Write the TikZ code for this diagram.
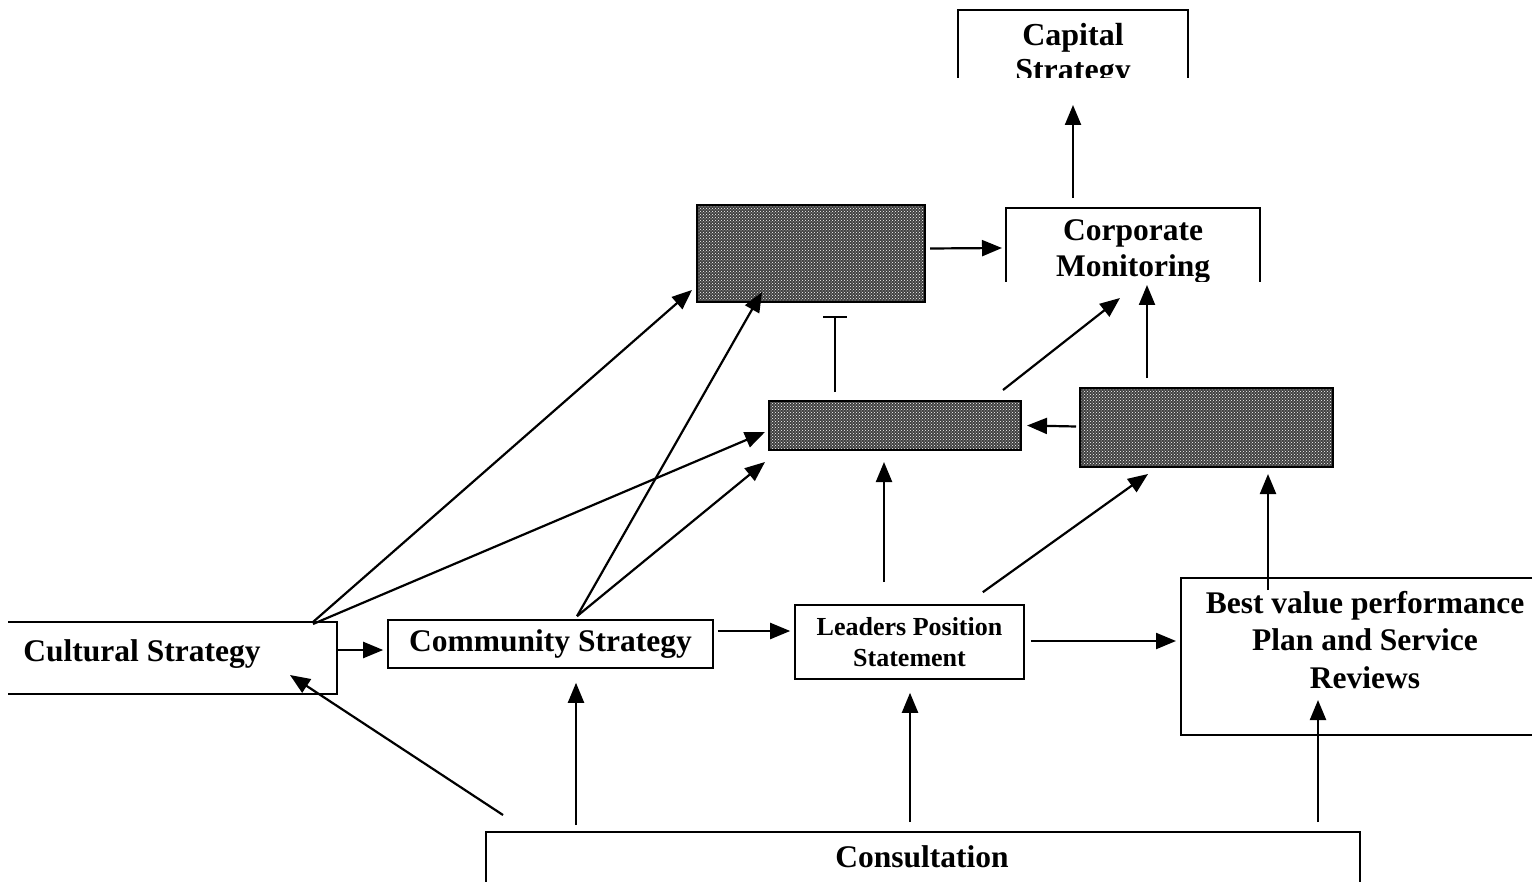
\documentclass[tikz,border=0pt]{standalone}
\usepackage{fontspec}
\setmainfont{Liberation Serif}
\usetikzlibrary{arrows.meta,calc,patterns}
\begin{document}
\begin{tikzpicture}[x=1pt,y=-1pt,
  boxline/.style={line width=1.6pt},
  txt/.style={font=\fontsize{31.5}{36}\selectfont\bfseries,align=center,inner sep=0pt},
  smalltxt/.style={font=\fontsize{26}{31}\selectfont\bfseries,align=center,inner sep=0pt},
  plain/.style={draw=none,inner sep=0pt,outer sep=0pt},
  darkbox/.style={draw=black,line width=1.6pt,fill=black!75,inner sep=0pt,outer sep=0pt},
  conn/.style={line width=2.2pt,-{Triangle[length=20pt,width=16pt]}},
  barconn/.style={line width=2.2pt,-{Bar[width=24pt,line width=2pt]}}
]
\useasboundingbox (0,0) rectangle (1538,882);
\fill[white] (0,0) rectangle (1538,882);

% Capital Strategy (open bottom)
\node[plain,minimum width=230pt,minimum height=68pt] (cap) at (1073,44) {};
\draw[boxline] (cap.south west) -- (cap.north west) -- (cap.north east) -- (cap.south east);
\begin{scope}
  \clip (cap.south west) rectangle (cap.north east);
  \node[txt,font=\fontsize{32}{35}\selectfont\bfseries] (captext) at (1073,55) {Capital\\Strategy};
\end{scope}

% dark boxes
\node[darkbox,minimum width=228pt,minimum height=97pt] (dk1) at (811,253.5) {};
\node[darkbox,minimum width=252pt,minimum height=49pt] (dk2) at (895,425.5) {};
\node[darkbox,minimum width=253pt,minimum height=79pt] (dk3) at (1206.5,427.5) {};
\foreach \b in {dk1,dk2,dk3}{
  \fill[pattern=crosshatch dots,pattern color=white] ([shift={(1.5pt,1.5pt)}]\b.south west) rectangle ([shift={(-1.5pt,-1.5pt)}]\b.north east);
}

% Corporate Monitoring (open bottom)
\node[plain,minimum width=254pt,minimum height=74pt] (corp) at (1133,245) {};
\draw[boxline] (corp.south west) -- (corp.north west) -- (corp.north east) -- (corp.south east);
\begin{scope}
  \clip (corp.south west) rectangle (corp.north east);
  \node[txt] (corptext) at (1133,252) {Corporate\\Monitoring};
\end{scope}

% Cultural Strategy (open left)
\node[plain,minimum width=329pt,minimum height=72pt] (cult) at (172.5,658) {};
\draw[boxline] (cult.north west) -- (cult.north east) -- (cult.south east) -- (cult.south west);
\node[txt] (culttext) at (142,654) {Cultural Strategy};

% Community Strategy
\node[draw,boxline,txt,minimum width=325pt,minimum height=48pt] (comm) at (550.5,644) {Community Strategy};

% Leaders Position Statement
\node[draw,boxline,smalltxt,minimum width=229pt,minimum height=74pt] (lead) at (909.5,642) {Leaders Position\\Statement};

% Best value (open right)
\node[plain,minimum width=351pt,minimum height=157pt] (best) at (1356.5,656.5) {};
\draw[boxline] (best.north east) -- (best.north west) -- (best.south west) -- (best.south east);
\node[txt,font=\fontsize{31.5}{37.5}\selectfont\bfseries] (besttext) at (1365,640) {Best value performance\\Plan and Service\\Reviews};

% Consultation (open bottom)
\node[plain,minimum width=874pt,minimum height=50pt] (cons) at (923,857) {};
\draw[boxline] (cons.south west) -- (cons.north west) -- (cons.north east) -- (cons.south east);
\node[txt] (constext) at (922,857) {Consultation};

% connectors
\draw[conn] ($(corp.north)+(-60,-10)$) -- ($(cap.south)+(0,27)$);
\draw[conn] ($(dk1.east)+(5,-5)$) -- ($(corp.west)+(-4,3)$);
\draw[conn] ($(cult.north)+(140.5,0)$) -- ($(dk1.south west)+(-5,-12)$);
\draw[conn] ($(cult.north)+(140.5,2)$) -- ($(dk2.west)+(-4,6.5)$);
\draw[conn] ($(comm.north)+(26.5,-3)$) -- ($(dk1.south)+(-49,-10)$);
\draw[conn] ($(comm.north)+(26.5,-3)$) -- ($(dk2.south west)+(-4,12)$);
\draw[barconn] ($(dk2.north)+(-60,-9)$) -- ($(dk1.south)+(24,14)$);
\draw[conn] ($(dk2.north east)+(-18,-11)$) -- ($(corp.south)+(-13,16)$);
\draw[conn] ($(dk3.north)+(-59.5,-10)$) -- ($(corp.south)+(14,3)$);
\draw[conn] ($(dk3.west)+(-4,-1)$) -- ($(dk2.east)+(6,0)$);
\draw[conn] ($(lead.north)+(-25.5,-22)$) -- ($(dk2.south)+(-11,12)$);
\draw[conn] ($(lead.north east)+(-42,-12)$) -- ($(dk3.south)+(-58.5,7)$);
\draw[conn] ($(best.north)+(-88.5,12)$) -- ($(dk3.south)+(61.5,7)$);
\draw[conn] ($(cult.east)+(0,-8)$) -- ($(comm.west)+(-4,6)$);
\draw[conn] ($(comm.east)+(4,-13)$) -- ($(lead.west)+(-4,-11)$);
\draw[conn] ($(lead.east)+(6,-1)$) -- ($(best.west)+(-5,-15.5)$);
\draw[conn] ($(cons.north west)+(17,-17)$) -- ($(cult.south)+(117.5,-19)$);
\draw[conn] ($(cons.north west)+(90,-7)$) -- ($(comm.south)+(25.5,14)$);
\draw[conn] ($(cons.north west)+(424,-10)$) -- ($(lead.south)+(0.5,13)$);
\draw[conn] ($(cons.north east)+(-42,-10)$) -- ($(best.south)+(-38.5,-35)$);
\end{tikzpicture}
\end{document}
